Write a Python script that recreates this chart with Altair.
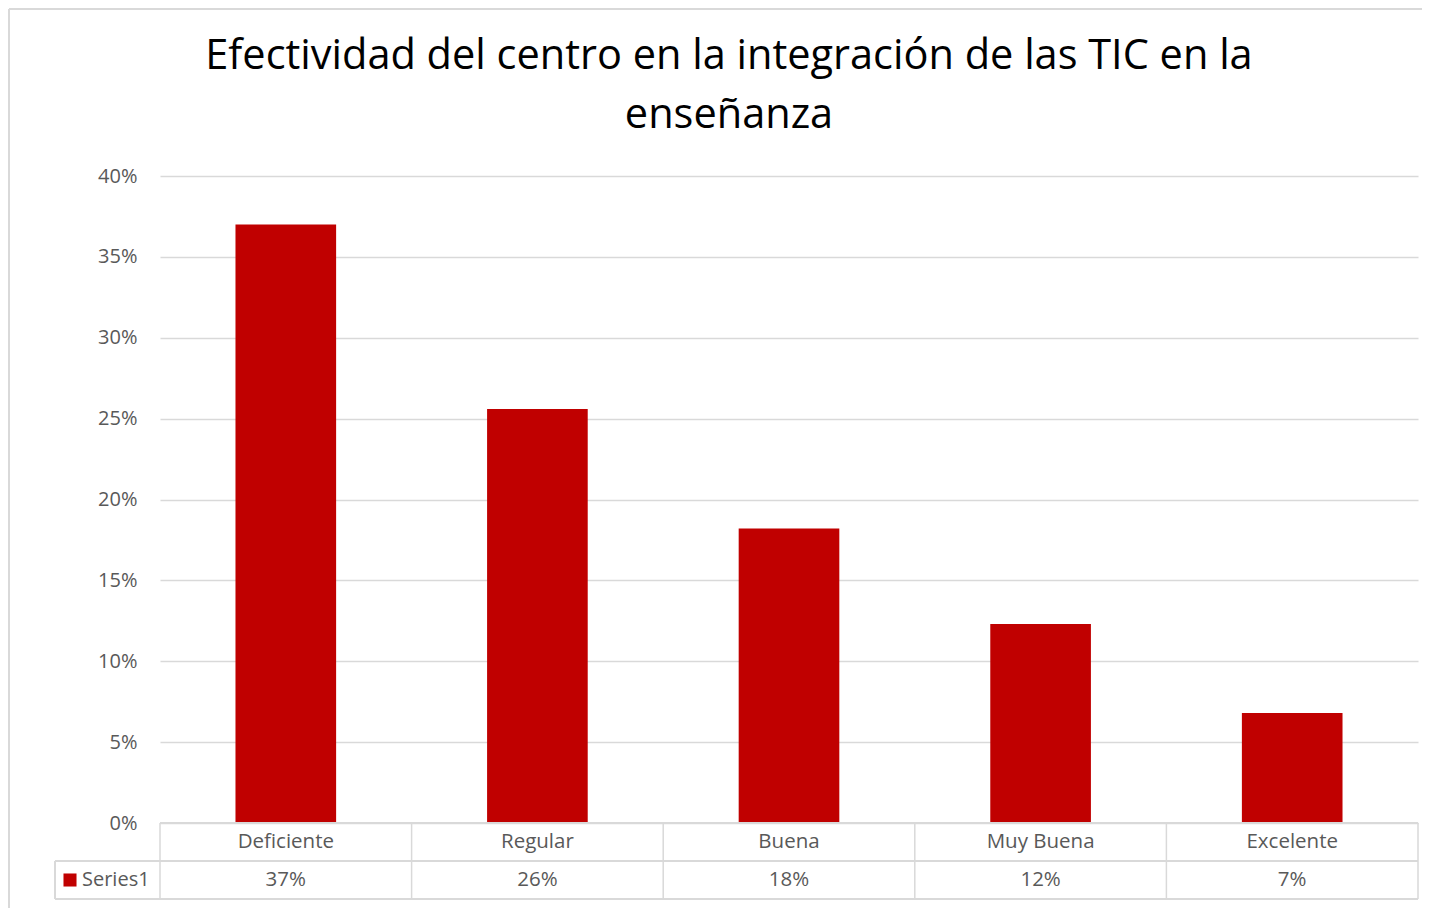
import altair as alt
import pandas as pd

categories = ["Deficiente", "Regular", "Buena", "Muy Buena", "Excelente"]
values = [0.37, 0.256, 0.182, 0.123, 0.068]
value_labels = ["37%", "26%", "18%", "12%", "7%"]
series_name = "Series1"
title_lines = ["Efectividad del centro en la integración de las TIC en la", "enseñanza"]

W, H = 1258, 647
FONT = "Open Sans"
GREY = "#595959"
LINE = "#d9d9d9"
RED = "#C00000"

df = pd.DataFrame({"cat": categories, "val": values, "lab": value_labels})

xscale = alt.Scale(domain=categories, paddingInner=0.6, paddingOuter=0.3)

bars = alt.Chart(df).mark_bar(color=RED).encode(
    x=alt.X("cat:N", sort=categories, scale=xscale, axis=None),
    y=alt.Y("val:Q", scale=alt.Scale(domain=[0, 0.4]),
            axis=alt.Axis(format=".0%", values=[0, 0.05, 0.1, 0.15, 0.2, 0.25, 0.3, 0.35, 0.4],
                          title=None, domain=False, ticks=False, labelPadding=23,
                          labelFont=FONT, labelFontSize=20, labelColor=GREY,
                          gridColor=LINE, gridWidth=1.3)),
)

# data table: category row and value row (text positioned in table rows)
tband = alt.Scale(domain=categories, paddingInner=0, paddingOuter=0)
cat_text = alt.Chart(df).mark_text(font=FONT, fontSize=20.5, color=GREY, baseline="middle").encode(
    x=alt.X("cat:N", sort=categories, scale=tband, axis=None),
    y=alt.value(H + 19),
    text="cat:N",
)
val_text = alt.Chart(df).mark_text(font=FONT, fontSize=20.5, color=GREY, baseline="middle").encode(
    x=alt.X("cat:N", sort=categories, scale=tband, axis=None),
    y=alt.value(H + 57),
    text="lab:N",
)

bounds = pd.DataFrame({"b": list(range(len(categories) + 1))})
vlines = alt.Chart(bounds).mark_rule(color=LINE, strokeWidth=1.5).encode(
    x=alt.X("b:Q", scale=alt.Scale(domain=[0, len(categories)]), axis=None),
    y=alt.value(H), y2=alt.value(H + 76),
)
hl1 = alt.Chart(bounds).mark_rule(color=LINE, strokeWidth=1.5).encode(
    x=alt.value(0), x2=alt.value(W), y=alt.value(H))
hl2 = alt.Chart(bounds).mark_rule(color=LINE, strokeWidth=1.5).encode(
    x=alt.value(-105), x2=alt.value(W), y=alt.value(H + 38))
hl3 = alt.Chart(bounds).mark_rule(color=LINE, strokeWidth=1.5).encode(
    x=alt.value(-105), x2=alt.value(W), y=alt.value(H + 76))
vl_leg = alt.Chart(bounds).mark_rule(color=LINE, strokeWidth=1.5).encode(
    x=alt.value(-105), y=alt.value(H + 38), y2=alt.value(H + 76))

leg = pd.DataFrame({"s": [series_name]})
leg_sq = alt.Chart(leg).mark_square(color=RED, opacity=1, size=170).encode(
    x=alt.value(-90), y=alt.value(H + 57))
leg_txt = alt.Chart(leg).mark_text(font=FONT, fontSize=20, color=GREY, align="left",
                                    baseline="middle").encode(
    x=alt.value(-78), y=alt.value(H + 57), text="s:N")

# title
tdf = pd.DataFrame({"t": title_lines, "yy": [-107, -48]})
title = alt.Chart(tdf).mark_text(font=FONT, fontSize=41.5, color="#000000",
                                  baseline="alphabetic").encode(
    x=alt.value(569), y=alt.Y("yy:Q", scale=None), text="t:N")

# outer frame (top and left edges)
frame_top = alt.Chart(leg).mark_rule(color=LINE, strokeWidth=2).encode(
    x=alt.value(-151), x2=alt.value(W + 10), y=alt.value(-167))
frame_left = alt.Chart(leg).mark_rule(color=LINE, strokeWidth=2).encode(
    x=alt.value(-151), y=alt.value(-167), y2=alt.value(H + 90))

chart = alt.layer(
    frame_top, frame_left, bars, hl1, hl2, hl3, vlines, vl_leg,
    cat_text, val_text, leg_sq, leg_txt, title
).resolve_scale(x="independent").properties(
    width=W, height=H,
    autosize=alt.AutoSizeParams(type="none"),
    padding={"left": 152, "top": 168, "right": 4, "bottom": 85},
).configure(background="white").configure_view(stroke=None)

chart.save("out.html", embed_options={"renderer": "svg", "actions": False})
